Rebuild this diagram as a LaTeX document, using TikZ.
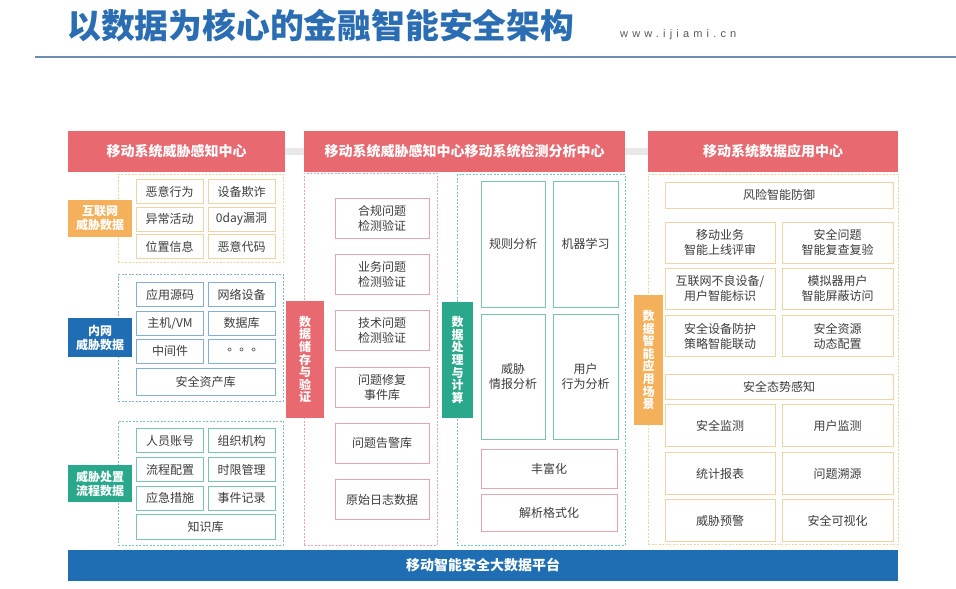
\documentclass[tikz,border=0pt]{standalone}
\usepackage{fontspec}
\setmainfont{Noto Sans CJK SC}
\newfontfamily\tcfont{Noto Sans CJK TC}
\newfontfamily\urlfont[LetterSpace=38]{Liberation Sans}
\usetikzlibrary{positioning,backgrounds}

\definecolor{vermelho}{HTML}{E8696F}
\definecolor{laranja}{HTML}{F5B05B}
\definecolor{azul}{HTML}{1F6DB3}
\definecolor{verde}{HTML}{2AA88B}
\definecolor{titulo}{HTML}{2A6DB2}
\definecolor{linha}{HTML}{6C8DAE}
\definecolor{cinza}{HTML}{3C3C3C}
\definecolor{barra}{HTML}{E8E8E8}
\definecolor{laranjaclaro}{HTML}{F2D3A4}
\definecolor{azulclaro}{HTML}{86ADD3}
\definecolor{verdeclaro}{HTML}{7CC2B2}
\definecolor{rosaclaro}{HTML}{E7A5AD}

\begin{document}
\begin{tikzpicture}[x=1pt, y=-1pt,
    tam/.style 2 args={minimum width=#1pt, minimum height=#2pt},
    cabecalho/.style={fill=vermelho, text=white, font=\bfseries\fontsize{14}{16}\selectfont, inner sep=0pt},
    grupo/.style={draw=#1, dash pattern=on 2pt off 1.5pt, line width=0.8pt, inner sep=0pt},
    rotulo/.style={fill=#1, text=white, font=\bfseries\fontsize{12}{14}\selectfont, align=center, inner sep=0pt},
    vertical/.style={fill=#1, text=white, font=\bfseries\fontsize{12}{12.6}\selectfont, align=center, inner sep=0pt},
    caixa/.style={draw=#1, line width=1pt, fill=white, text=cinza, font=\fontsize{12}{15}\selectfont, align=center, inner sep=0pt}]
\useasboundingbox (0,0) rectangle (956,589);

% Titulo
\node[anchor=west, text=titulo, font=\bfseries\fontsize{33.8}{36}\selectfont, inner sep=0pt] (titulo) at (67,26) {以数据为核心的金融智能安全架构};
\node[anchor=west, text=cinza!85, font=\urlfont\fontsize{11}{13}\selectfont, inner sep=0pt] (site) at (620,35) {www.ijiami.cn};
\coordinate (l1) at (35,57);
\coordinate (l2) at (956,57);
\draw[linha, line width=2pt] (l1) -- (l2);

% Cabecalhos
\node[cabecalho, tam={217}{41}] (hdrL) at (176.5,151.5) {移动系统威胁感知中心};
\node[cabecalho, tam={321}{41}] (hdrM) at (464.5,151.5) {移动系统威胁感知中心移动系统检测分析中心};
\node[cabecalho, tam={250}{41}] (hdrR) at (773,151.5) {移动系统数据应用中心};
\begin{pgfonlayer}{background}
  \draw[barra, line width=7pt] (hdrL) -- (hdrR);
\end{pgfonlayer}

% Coluna esquerda: dados de ameaca
\node[grupo=laranjaclaro, tam={165}{88}] (g1) at (200.5,218) {};
\node[rotulo=laranja, tam={64}{37}] (t1) at (100,218.5) {互联网\\威胁数据};
\foreach \a/\b [count=\r] in {恶意行为/设备欺诈, 异常活动/0day漏洞, 位置信息/恶意代码}{
  \node[caixa=laranjaclaro, tam={67}{24}] (net-\r-1) at (169.5,164+27.5*\r) {\a};
  \node[caixa=laranjaclaro, tam={67}{24}] (net-\r-2) at (241.5,164+27.5*\r) {\b};
}

\node[grupo=azulclaro, tam={165}{127}] (g2) at (200.5,337.5) {};
\node[rotulo=azul, tam={64}{39}] (t2) at (100,337.5) {内网\\威胁数据};
\foreach \a/\b [count=\r] in {应用源码/网络设备, {主机/VM}/数据库, 中间件/{\tcfont 。。。}}{
  \node[caixa=azulclaro, tam={67}{24}] (int-\r-1) at (170,266.5+28.3*\r) {\a};
  \node[caixa=azulclaro, tam={67}{24}] (int-\r-2) at (241.5,266.5+28.3*\r) {\b};
}
\node[caixa=azulclaro, tam={139}{27}] (ativos) at (205.5,381.5) {安全资产库};

\node[grupo=verdeclaro, tam={165}{124}] (g3) at (200.5,483) {};
\node[rotulo=verde, tam={64}{37}] (t3) at (100,483.5) {威胁处置\\流程数据};
\foreach \a/\b [count=\r] in {人员账号/组织机构, 流程配置/时限管理, 应急措施/事件记录}{
  \node[caixa=verdeclaro, tam={67}{24}] (flx-\r-1) at (170,412+28.8*\r) {\a};
  \node[caixa=verdeclaro, tam={67}{24}] (flx-\r-2) at (241.5,412+28.8*\r) {\b};
}
\node[caixa=verdeclaro, tam={139}{25}] (saber) at (205.5,526.5) {知识库};

% Coluna central: armazenamento
\node[grupo=rosaclaro, tam={133}{372}] (g4) at (370.5,359) {};
\node[vertical=vermelho, tam={38}{117}] (t4) at (305,359.5) {数\\据\\储\\存\\与\\验\\证};
\foreach \t [count=\r from 0] in {合规问题\\检测验证, 业务问题\\检测验证, 技术问题\\检测验证, 问题修复\\事件库, 问题告警库, 原始日志数据}{
  \node[caixa=rosaclaro, tam={94}{40}] (arm-\r) at (382,218.5+56.2*\r) {\t};
}

% Coluna central: processamento
\node[grupo=verdeclaro, tam={168}{371}] (g5) at (541,359.5) {};
\node[vertical=verde, tam={31}{116}] (t5) at (457.5,360) {数\\据\\处\\理\\与\\计\\算};
\node[caixa=verdeclaro, tam={64}{126}] (regras) at (513,244) {规则分析};
\node[caixa=verdeclaro, tam={65}{126}] (maquina) at (585.5,244) {机器学习};
\node[caixa=verdeclaro, tam={64}{125}] (intel) at (513,376.5) {威胁\\情报分析};
\node[caixa=verdeclaro, tam={65}{125}] (usuario) at (585.5,376.5) {用户\\行为分析};
\node[caixa=rosaclaro, tam={136}{39}] (enriq) at (549,468.5) {丰富化};
\node[caixa=rosaclaro, tam={136}{37}] (format) at (549,512.5) {解析格式化};

% Coluna direita: aplicacao
\node[grupo=laranjaclaro, tam={250}{370}] (g6) at (773,359) {};
\node[vertical=laranja, tam={29}{130}] (t6) at (648.5,360) {数\\据\\智\\能\\应\\用\\场\\景};
\node[caixa=laranjaclaro, tam={228}{26}] (defesa) at (779,195) {风险智能防御};
\foreach \y/\a/\b [count=\r] in {242.5/{移动业务\\智能上线评审}/{安全问题\\智能复查复验}, 288.5/{互联网不良设备/\\用户智能标识}/{模拟器用户\\智能屏蔽访问}, 336/{安全设备防护\\策略智能联动}/{安全资源\\动态配置}}{
  \node[caixa=laranjaclaro, tam={110}{41}] (def-\r-1) at (720,\y) {\a};
  \node[caixa=laranjaclaro, tam={111}{41}] (def-\r-2) at (837.5,\y) {\b};
}
\node[caixa=laranjaclaro, tam={228}{25}] (situacao) at (779,386.5) {安全态势感知};
\foreach \y/\a/\b [count=\r] in {425.5/安全监测/用户监测, 473.5/统计报表/问题溯源, 520.5/威胁预警/安全可视化}{
  \node[caixa=laranjaclaro, tam={110}{42}] (sit-\r-1) at (720,\y) {\a};
  \node[caixa=laranjaclaro, tam={111}{42}] (sit-\r-2) at (837.5,\y) {\b};
}

% Plataforma
\node[fill=azul, text=white, font=\bfseries\fontsize{14}{16}\selectfont, tam={830}{31}, inner sep=0pt] (plataforma) at (483,565.5) {移动智能安全大数据平台};
\end{tikzpicture}
\end{document}
